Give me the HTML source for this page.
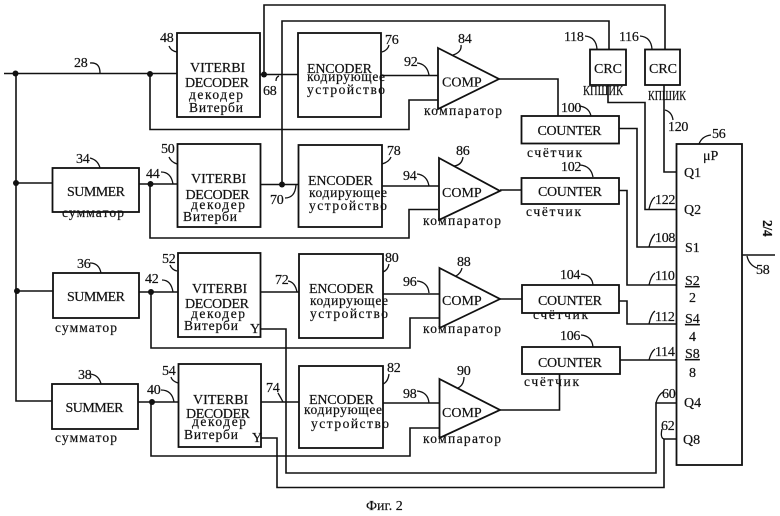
<!DOCTYPE html>
<html>
<head>
<meta charset="utf-8">
<style>
html,body{margin:0;padding:0;background:#fff;width:780px;height:516px;overflow:hidden}
svg{display:block}
.l{fill:none;stroke:#111;stroke-width:1.6}
.b{fill:none;stroke:#111;stroke-width:1.8}
.t{fill:#fff;stroke:#111;stroke-width:1.8}
.w{fill:none;stroke:#111;stroke-width:1.3}
text{fill:#111;stroke:#111;stroke-width:.2}
.s{font:14px "Liberation Serif",serif}
.n{font:14px "Liberation Serif",serif;letter-spacing:-.3px}
.m{font:13.5px "Liberation Serif",serif;stroke-width:.1}
</style>
</head>
<body>
<svg width="780" height="516" viewBox="0 0 780 516" xmlns="http://www.w3.org/2000/svg">
<rect width="780" height="516" fill="#fff"/>
<!-- wires -->
<g class="l">
<path d="M4,73.5H177M16,73.5V401H52M16,183H52M16,291H53"/>
<path d="M139,184H177M139,292H178M138,402H178"/>
<path d="M150,74V129.5H409V100H438"/>
<path d="M150,184V238H409V209.5H438"/>
<path d="M151,292V348H410V318H439"/>
<path d="M151,402V456H410V428H439"/>
<path d="M260,74.5H298M264,74.5V5H665V50"/>
<path d="M260,184.5H298M282,184.5V21H609V49"/>
<path d="M261,292H299M261,402H299"/>
<path d="M381,75.5H438M382,186H439M383,294H439M383,403H439"/>
<path d="M499,79H558V116M500,190H521M500,299H522M500,410H559.5V374"/>
<path d="M619,128.5H637V247H676M619,190.5H627V285H676M619,301H627V324H676M620,360H676"/>
<path d="M608,85V102.5H645V209.5H676M664,85V172H676"/>
<path d="M742,255H775"/>
<path d="M676,403H656V473H286V329H260M676,439H664V487.5H277V438H261"/>
</g>
<!-- junction dots -->
<g fill="#111">
<circle cx="15.5" cy="73.5" r="3"/><circle cx="150" cy="74" r="3"/><circle cx="264" cy="74.5" r="3"/>
<circle cx="16" cy="183" r="3"/><circle cx="150.500" cy="184" r="3"/><circle cx="282" cy="184.500" r="3"/>
<circle cx="17" cy="291" r="3"/><circle cx="151" cy="292" r="3"/><circle cx="152" cy="402" r="3"/>
</g>
<!-- boxes -->
<g class="b">
<rect x="52.500" y="168" width="86.500" height="44"/>
<rect x="53" y="273" width="86" height="45"/>
<rect x="52" y="384" width="86" height="45"/>
<rect x="177" y="33" width="83" height="84"/>
<rect x="177.500" y="144" width="83" height="83"/>
<rect x="178" y="253" width="82.500" height="84"/>
<rect x="178.500" y="364" width="82.500" height="83"/>
<rect x="298" y="33" width="83" height="84"/>
<rect x="298.500" y="145" width="83.500" height="82"/>
<rect x="299" y="254" width="84" height="84"/>
<rect x="299" y="366" width="84" height="82"/>
<rect x="521.500" y="116" width="97.500" height="27.500"/>
<rect x="521.500" y="178" width="97.500" height="26"/>
<rect x="522" y="285" width="97" height="28"/>
<rect x="522" y="347" width="98" height="27"/>
<rect x="590" y="49.500" width="36" height="35.500"/>
<rect x="645" y="49.500" width="35" height="35.500"/>
<rect x="676.500" y="144" width="65.500" height="321"/>
</g>
<g class="t">
<path d="M438,48L499,79L438,109Z"/>
<path d="M439,158L500,191L439,220Z"/>
<path d="M439.500,268L500,299L439.500,328Z"/>
<path d="M439.500,379L500,410L439.500,438Z"/>
</g>
<!-- leaders -->
<g class="w">
<path d="M90,63Q100,62 100,73M169,46Q171,51 177,52M382,52Q388,50 389,45M276,81Q276,77 279,76"/>
<path d="M90,158Q98,160 100,168M169,157Q171,162 177,164M382,164Q389,162 391,157M161,172Q171,172 173,184M285,198Q295,198 296,185"/>
<path d="M90,263Q99,263 101,273M170,265Q172,270 177,271M383,272Q388,270 389,264M162,280Q171,280 173,292M288,281Q295,282 297,292"/>
<path d="M90,374Q99,375 101,384M171,377Q172,381 178,383M383,384Q388,382 389,374M161,390Q172,390 174,402M278,393Q281,398 283,402"/>
<path d="M417,63Q427,64 429,75M461,45Q462,52 453,55M417,174Q427,175 429,186M463,157Q462,165 454,166M417,281Q428,282 429,293M462,268Q461,273 456,276M417,391Q428,392 429,403M464,377Q464,385 458,388"/>
<path d="M585,36Q596,37 597,49M640,36Q651,37 652,49M579,106Q589,107 591,116M580,165Q591,166 593,177M581,274Q592,275 593,285M581,335Q592,336 593,347"/>
<path d="M665,110Q672,112 673,120M711,135Q702,136 699,144M649,209Q651,200 655,197M649,247Q651,238 655,234M649,285Q651,276 655,273M649,324Q651,314 655,311M649,360Q651,352 655,349M656,403Q658,395 663,392M664,439Q660,438 662,429M747,256Q749,265 757,268"/>
</g>
<!-- serif block labels -->
<g class="s">
<text x="190" y="72">VITERBI</text><text x="185" y="87" textLength="64">DECODER</text>
<text x="191" y="183">VITERBI</text><text x="185.500" y="199" textLength="64">DECODER</text>
<text x="192" y="293">VITERBI</text><text x="185" y="308" textLength="64">DECODER</text>
<text x="193" y="404">VITERBI</text><text x="186" y="418" textLength="64">DECODER</text>
<text x="307" y="73" textLength="65">ENCODER</text><text x="308" y="185" textLength="65">ENCODER</text><text x="309" y="293" textLength="65">ENCODER</text><text x="309" y="404" textLength="65">ENCODER</text>
<text x="67" y="196" textLength="58">SUMMER</text><text x="67" y="301" textLength="58">SUMMER</text><text x="65.500" y="412" textLength="58">SUMMER</text>
<text x="442" y="86.500">COMP</text><text x="442" y="197">COMP</text><text x="442" y="305">COMP</text><text x="442" y="417">COMP</text>
<text x="537.500" y="135" textLength="64">COUNTER</text><text x="538" y="196" textLength="64">COUNTER</text><text x="538" y="305" textLength="64">COUNTER</text><text x="538" y="367" textLength="64">COUNTER</text>
<text x="594" y="73">CRC</text><text x="649" y="73">CRC</text>
<text x="703" y="160">μP</text>
<text x="684" y="177">Q1</text><text x="684" y="214">Q2</text><text x="685" y="252">S1</text>
<text x="685" y="285" text-decoration="underline">S2</text><text x="689" y="302">2</text>
<text x="685" y="323" text-decoration="underline">S4</text><text x="689" y="341">4</text>
<text x="685" y="358" text-decoration="underline">S8</text><text x="689" y="377">8</text>
<text x="684" y="407">Q4</text><text x="683" y="444">Q8</text>
<text x="250" y="333">Y</text><text x="252" y="442">Y</text>
</g>
<!-- Cyrillic labels -->
<g class="m">
<text x="189" y="99" textLength="54">декодер</text><text x="189" y="112" textLength="54">Витерби</text>
<text x="191" y="209" textLength="54">декодер</text><text x="183" y="221" textLength="54">Витерби</text>
<text x="191" y="318" textLength="54">декодер</text><text x="184" y="330" textLength="54">Витерби</text>
<text x="192" y="426" textLength="54">декодер</text><text x="184" y="439" textLength="54">Витерби</text>
<text x="307" y="81" textLength="78">кодирующее</text><text x="307" y="94" textLength="78">устройство</text>
<text x="309" y="197" textLength="78">кодирующее</text><text x="309" y="210" textLength="78">устройство</text>
<text x="310" y="305" textLength="78">кодирующее</text><text x="310" y="318" textLength="78">устройство</text>
<text x="304" y="414" textLength="78">кодирующее</text><text x="311" y="428" textLength="78">устройство</text>
<text x="424" y="115" textLength="78">компаратор</text><text x="423" y="225" textLength="78">компаратор</text><text x="423" y="333" textLength="78">компаратор</text><text x="423" y="443" textLength="78">компаратор</text>
<text x="527" y="157" textLength="55">счётчик</text><text x="526" y="216" textLength="55">счётчик</text><text x="533" y="319" textLength="55">счётчик</text><text x="524" y="386" textLength="55">счётчик</text>
<text x="62" y="217" textLength="62">сумматор</text><text x="55" y="332" textLength="62">сумматор</text><text x="55" y="442" textLength="62">сумматор</text>
<text x="583" y="95" textLength="40" lengthAdjust="spacingAndGlyphs">КПШИК</text><text x="648" y="100" textLength="38" lengthAdjust="spacingAndGlyphs">КПШИК</text>
</g>
<!-- reference numbers -->
<g class="n">
<text x="74" y="67">28</text><text x="160" y="42">48</text><text x="385" y="44">76</text><text x="263" y="95">68</text>
<text x="76" y="163">34</text><text x="161" y="153">50</text><text x="387" y="155">78</text><text x="146" y="178">44</text><text x="270" y="204">70</text>
<text x="77" y="268">36</text><text x="162" y="263">52</text><text x="385" y="262">80</text><text x="145" y="283">42</text><text x="275" y="284">72</text>
<text x="78" y="379">38</text><text x="162" y="375">54</text><text x="387" y="372">82</text><text x="147" y="394">40</text><text x="266" y="392">74</text>
<text x="404" y="66">92</text><text x="458" y="43">84</text><text x="403" y="180">94</text><text x="456" y="155">86</text>
<text x="403" y="286">96</text><text x="457" y="266">88</text><text x="403" y="398">98</text><text x="457" y="375">90</text>
<text x="564" y="41">118</text><text x="619" y="41">116</text><text x="561" y="112">100</text><text x="561" y="171">102</text>
<text x="560" y="279">104</text><text x="560" y="340">106</text><text x="668" y="131">120</text><text x="712" y="138">56</text>
<text x="655" y="204">122</text><text x="655" y="242">108</text><text x="655" y="280">110</text><text x="655" y="321">112</text><text x="655" y="356">114</text>
<text x="662" y="398">60</text><text x="661" y="430">62</text><text x="756" y="274">58</text>
<text transform="translate(763,220) rotate(90)" font-weight="bold" style="font-size:13.5px">2/4</text>
</g>
<text x="366" y="510" style="font:14px 'Liberation Serif',serif">Фиг. 2</text>
</svg>
</body>
</html>
